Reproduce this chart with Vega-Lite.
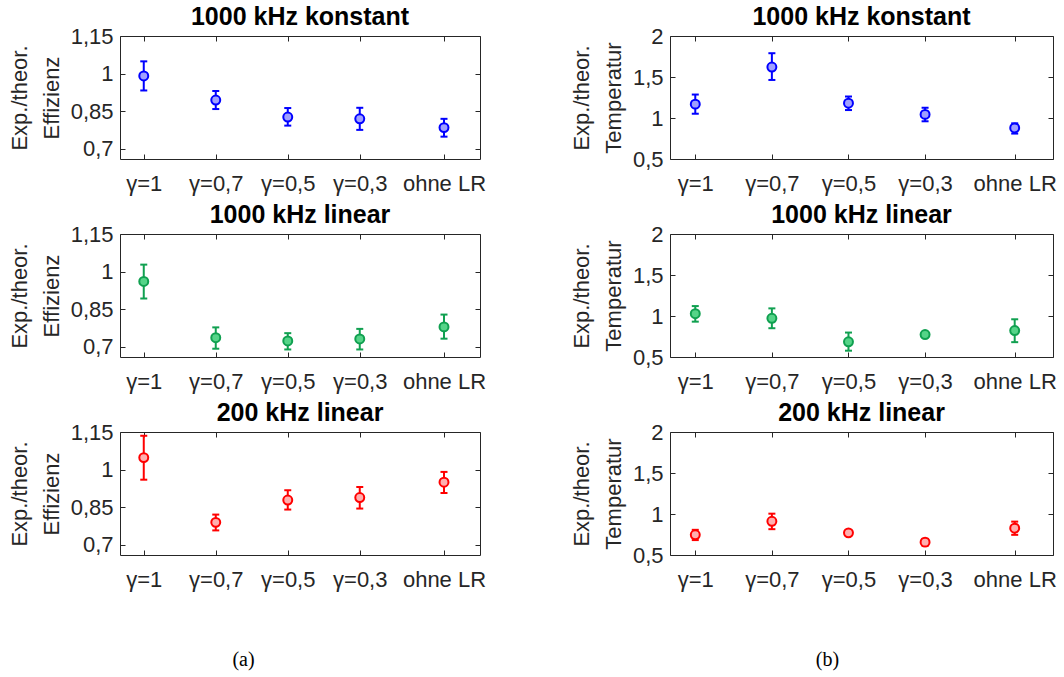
{
  "$schema": "https://vega.github.io/schema/vega-lite/v6.json",
  "background": "white",
  "padding": {"left": 7, "top": 4, "right": 0, "bottom": 4},
  "datasets": {
    "pts": [
      {"g": "E1", "pos": 1, "val": 0.991, "lo": 0.933, "hi": 1.049},
      {"g": "E1", "pos": 2, "val": 0.895, "lo": 0.859, "hi": 0.931},
      {"g": "E1", "pos": 3, "val": 0.827, "lo": 0.793, "hi": 0.863},
      {"g": "E1", "pos": 4, "val": 0.820, "lo": 0.776, "hi": 0.864},
      {"g": "E1", "pos": 5.17, "val": 0.785, "lo": 0.749, "hi": 0.820},
      {"g": "E2", "pos": 1, "val": 0.961, "lo": 0.893, "hi": 1.028},
      {"g": "E2", "pos": 2, "val": 0.737, "lo": 0.693, "hi": 0.778},
      {"g": "E2", "pos": 3, "val": 0.724, "lo": 0.690, "hi": 0.755},
      {"g": "E2", "pos": 4, "val": 0.732, "lo": 0.690, "hi": 0.772},
      {"g": "E2", "pos": 5.17, "val": 0.780, "lo": 0.733, "hi": 0.829},
      {"g": "E3", "pos": 1, "val": 1.048, "lo": 0.960, "hi": 1.135},
      {"g": "E3", "pos": 2, "val": 0.790, "lo": 0.758, "hi": 0.821},
      {"g": "E3", "pos": 3, "val": 0.879, "lo": 0.841, "hi": 0.918},
      {"g": "E3", "pos": 4, "val": 0.889, "lo": 0.845, "hi": 0.931},
      {"g": "E3", "pos": 5.17, "val": 0.950, "lo": 0.907, "hi": 0.991},
      {"g": "T1", "pos": 1, "val": 1.169, "lo": 1.052, "hi": 1.286},
      {"g": "T1", "pos": 2, "val": 1.621, "lo": 1.464, "hi": 1.790},
      {"g": "T1", "pos": 3, "val": 1.181, "lo": 1.097, "hi": 1.262},
      {"g": "T1", "pos": 4, "val": 1.044, "lo": 0.960, "hi": 1.125},
      {"g": "T1", "pos": 5.17, "val": 0.879, "lo": 0.810, "hi": 0.935},
      {"g": "T2", "pos": 1, "val": 1.028, "lo": 0.931, "hi": 1.121},
      {"g": "T2", "pos": 2, "val": 0.972, "lo": 0.851, "hi": 1.093},
      {"g": "T2", "pos": 3, "val": 0.685, "lo": 0.577, "hi": 0.798},
      {"g": "T2", "pos": 4, "val": 0.774, "lo": 0.742, "hi": 0.806},
      {"g": "T2", "pos": 5.17, "val": 0.823, "lo": 0.681, "hi": 0.960},
      {"g": "T3", "pos": 1, "val": 0.746, "lo": 0.682, "hi": 0.807},
      {"g": "T3", "pos": 2, "val": 0.911, "lo": 0.815, "hi": 1.004},
      {"g": "T3", "pos": 3, "val": 0.770, "lo": 0.738, "hi": 0.802},
      {"g": "T3", "pos": 4, "val": 0.657, "lo": 0.613, "hi": 0.697},
      {"g": "T3", "pos": 5.17, "val": 0.827, "lo": 0.746, "hi": 0.907}
    ]
  },
  "data": {"name": "pts"},
  "bounds": "flush",
  "columns": 2,
  "spacing": {"row": 75, "column": 190},
  "concat": [
    {
      "width": 360, "height": 123,
      "title": "1000 kHz konstant",
      "transform": [{"filter": "datum.g == 'E1'"}],
      "layer": [
        {"layer": [
          {"mark": {"type": "rule", "color": "#0000ff", "strokeWidth": 2}, "encoding": {"x": {"field": "pos", "type": "quantitative", "scale": {"domain": [0.67, 5.67], "nice": false, "zero": false}, "axis": {"values": [1, 2, 3, 4, 5.17], "labelExpr": "datum.value == 1 ? 'γ=1' : datum.value == 2 ? 'γ=0,7' : datum.value == 3 ? 'γ=0,5' : datum.value == 4 ? 'γ=0,3' : 'ohne LR'", "title": null, "labelPadding": 19}}, "y": {"field": "lo", "type": "quantitative", "scale": {"domain": [0.66, 1.15], "nice": false, "zero": false}, "axis": {"values": [0.7, 0.85, 1, 1.15], "format": ".2~f", "title": ["Exp./theor.", "Effizienz"]}}, "y2": {"field": "hi"}}},
          {"mark": {"type": "tick", "orient": "horizontal", "color": "#0000ff", "size": 7, "thickness": 2, "opacity": 1}, "encoding": {"x": {"field": "pos", "type": "quantitative"}, "y": {"field": "lo", "type": "quantitative"}}},
          {"mark": {"type": "tick", "orient": "horizontal", "color": "#0000ff", "size": 7, "thickness": 2, "opacity": 1}, "encoding": {"x": {"field": "pos", "type": "quantitative"}, "y": {"field": "hi", "type": "quantitative"}}},
          {"mark": {"type": "point", "shape": "circle", "filled": true, "fill": "#a0a0ff", "stroke": "#0000ff", "strokeWidth": 2, "size": 80, "opacity": 1}, "encoding": {"x": {"field": "pos", "type": "quantitative"}, "y": {"field": "val", "type": "quantitative"}}}
        ]},
        {"mark": {"type": "point", "opacity": 0}, "encoding": {"x": {"field": "pos", "type": "quantitative", "scale": {"domain": [0.67, 5.67], "nice": false, "zero": false}, "axis": {"orient": "top", "labels": false, "title": null, "values": [1, 2, 3, 4, 5.17]}}, "y": {"field": "val", "type": "quantitative", "scale": {"domain": [0.66, 1.15], "nice": false, "zero": false}, "axis": {"orient": "right", "labels": false, "title": null, "values": [0.7, 0.85, 1, 1.15]}}}}
      ],
      "resolve": {"axis": {"x": "independent", "y": "independent"}}
    },
    {
      "width": 383, "height": 123,
      "title": "1000 kHz konstant",
      "transform": [{"filter": "datum.g == 'T1'"}],
      "layer": [
        {"layer": [
          {"mark": {"type": "rule", "color": "#0000ff", "strokeWidth": 2}, "encoding": {"x": {"field": "pos", "type": "quantitative", "scale": {"domain": [0.67, 5.67], "nice": false, "zero": false}, "axis": {"values": [1, 2, 3, 4, 5.17], "labelExpr": "datum.value == 1 ? 'γ=1' : datum.value == 2 ? 'γ=0,7' : datum.value == 3 ? 'γ=0,5' : datum.value == 4 ? 'γ=0,3' : 'ohne LR'", "title": null, "labelPadding": 19}}, "y": {"field": "lo", "type": "quantitative", "scale": {"domain": [0.5, 2], "nice": false, "zero": false}, "axis": {"values": [0.5, 1, 1.5, 2], "format": ".1~f", "title": ["Exp./theor.", "Temperatur"]}}, "y2": {"field": "hi"}}},
          {"mark": {"type": "tick", "orient": "horizontal", "color": "#0000ff", "size": 7, "thickness": 2, "opacity": 1}, "encoding": {"x": {"field": "pos", "type": "quantitative"}, "y": {"field": "lo", "type": "quantitative"}}},
          {"mark": {"type": "tick", "orient": "horizontal", "color": "#0000ff", "size": 7, "thickness": 2, "opacity": 1}, "encoding": {"x": {"field": "pos", "type": "quantitative"}, "y": {"field": "hi", "type": "quantitative"}}},
          {"mark": {"type": "point", "shape": "circle", "filled": true, "fill": "#a0a0ff", "stroke": "#0000ff", "strokeWidth": 2, "size": 80, "opacity": 1}, "encoding": {"x": {"field": "pos", "type": "quantitative"}, "y": {"field": "val", "type": "quantitative"}}}
        ]},
        {"mark": {"type": "point", "opacity": 0}, "encoding": {"x": {"field": "pos", "type": "quantitative", "scale": {"domain": [0.67, 5.67], "nice": false, "zero": false}, "axis": {"orient": "top", "labels": false, "title": null, "values": [1, 2, 3, 4, 5.17]}}, "y": {"field": "val", "type": "quantitative", "scale": {"domain": [0.5, 2], "nice": false, "zero": false}, "axis": {"orient": "right", "labels": false, "title": null, "values": [0.5, 1, 1.5, 2]}}}}
      ],
      "resolve": {"axis": {"x": "independent", "y": "independent"}}
    },
    {
      "width": 360, "height": 123,
      "title": "1000 kHz linear",
      "transform": [{"filter": "datum.g == 'E2'"}],
      "layer": [
        {"layer": [
          {"mark": {"type": "rule", "color": "#10a050", "strokeWidth": 2}, "encoding": {"x": {"field": "pos", "type": "quantitative", "scale": {"domain": [0.67, 5.67], "nice": false, "zero": false}, "axis": {"values": [1, 2, 3, 4, 5.17], "labelExpr": "datum.value == 1 ? 'γ=1' : datum.value == 2 ? 'γ=0,7' : datum.value == 3 ? 'γ=0,5' : datum.value == 4 ? 'γ=0,3' : 'ohne LR'", "title": null, "labelPadding": 19}}, "y": {"field": "lo", "type": "quantitative", "scale": {"domain": [0.66, 1.15], "nice": false, "zero": false}, "axis": {"values": [0.7, 0.85, 1, 1.15], "format": ".2~f", "title": ["Exp./theor.", "Effizienz"]}}, "y2": {"field": "hi"}}},
          {"mark": {"type": "tick", "orient": "horizontal", "color": "#10a050", "size": 7, "thickness": 2, "opacity": 1}, "encoding": {"x": {"field": "pos", "type": "quantitative"}, "y": {"field": "lo", "type": "quantitative"}}},
          {"mark": {"type": "tick", "orient": "horizontal", "color": "#10a050", "size": 7, "thickness": 2, "opacity": 1}, "encoding": {"x": {"field": "pos", "type": "quantitative"}, "y": {"field": "hi", "type": "quantitative"}}},
          {"mark": {"type": "point", "shape": "circle", "filled": true, "fill": "#55d488", "stroke": "#10a050", "strokeWidth": 2, "size": 80, "opacity": 1}, "encoding": {"x": {"field": "pos", "type": "quantitative"}, "y": {"field": "val", "type": "quantitative"}}}
        ]},
        {"mark": {"type": "point", "opacity": 0}, "encoding": {"x": {"field": "pos", "type": "quantitative", "scale": {"domain": [0.67, 5.67], "nice": false, "zero": false}, "axis": {"orient": "top", "labels": false, "title": null, "values": [1, 2, 3, 4, 5.17]}}, "y": {"field": "val", "type": "quantitative", "scale": {"domain": [0.66, 1.15], "nice": false, "zero": false}, "axis": {"orient": "right", "labels": false, "title": null, "values": [0.7, 0.85, 1, 1.15]}}}}
      ],
      "resolve": {"axis": {"x": "independent", "y": "independent"}}
    },
    {
      "width": 383, "height": 123,
      "title": "1000 kHz linear",
      "transform": [{"filter": "datum.g == 'T2'"}],
      "layer": [
        {"layer": [
          {"mark": {"type": "rule", "color": "#10a050", "strokeWidth": 2}, "encoding": {"x": {"field": "pos", "type": "quantitative", "scale": {"domain": [0.67, 5.67], "nice": false, "zero": false}, "axis": {"values": [1, 2, 3, 4, 5.17], "labelExpr": "datum.value == 1 ? 'γ=1' : datum.value == 2 ? 'γ=0,7' : datum.value == 3 ? 'γ=0,5' : datum.value == 4 ? 'γ=0,3' : 'ohne LR'", "title": null, "labelPadding": 19}}, "y": {"field": "lo", "type": "quantitative", "scale": {"domain": [0.5, 2], "nice": false, "zero": false}, "axis": {"values": [0.5, 1, 1.5, 2], "format": ".1~f", "title": ["Exp./theor.", "Temperatur"]}}, "y2": {"field": "hi"}}},
          {"mark": {"type": "tick", "orient": "horizontal", "color": "#10a050", "size": 7, "thickness": 2, "opacity": 1}, "encoding": {"x": {"field": "pos", "type": "quantitative"}, "y": {"field": "lo", "type": "quantitative"}}},
          {"mark": {"type": "tick", "orient": "horizontal", "color": "#10a050", "size": 7, "thickness": 2, "opacity": 1}, "encoding": {"x": {"field": "pos", "type": "quantitative"}, "y": {"field": "hi", "type": "quantitative"}}},
          {"mark": {"type": "point", "shape": "circle", "filled": true, "fill": "#55d488", "stroke": "#10a050", "strokeWidth": 2, "size": 80, "opacity": 1}, "encoding": {"x": {"field": "pos", "type": "quantitative"}, "y": {"field": "val", "type": "quantitative"}}}
        ]},
        {"mark": {"type": "point", "opacity": 0}, "encoding": {"x": {"field": "pos", "type": "quantitative", "scale": {"domain": [0.67, 5.67], "nice": false, "zero": false}, "axis": {"orient": "top", "labels": false, "title": null, "values": [1, 2, 3, 4, 5.17]}}, "y": {"field": "val", "type": "quantitative", "scale": {"domain": [0.5, 2], "nice": false, "zero": false}, "axis": {"orient": "right", "labels": false, "title": null, "values": [0.5, 1, 1.5, 2]}}}}
      ],
      "resolve": {"axis": {"x": "independent", "y": "independent"}}
    },
    {
      "width": 360, "height": 123,
      "title": "200 kHz linear",
      "transform": [{"filter": "datum.g == 'E3'"}],
      "layer": [
        {"layer": [
          {"mark": {"type": "rule", "color": "#ff0000", "strokeWidth": 2}, "encoding": {"x": {"field": "pos", "type": "quantitative", "scale": {"domain": [0.67, 5.67], "nice": false, "zero": false}, "axis": {"values": [1, 2, 3, 4, 5.17], "labelExpr": "datum.value == 1 ? 'γ=1' : datum.value == 2 ? 'γ=0,7' : datum.value == 3 ? 'γ=0,5' : datum.value == 4 ? 'γ=0,3' : 'ohne LR'", "labelPadding": 19, "title": "(a)", "titleFont": "Liberation Serif", "titleFontSize": 20, "titleFontWeight": "normal", "titleColor": "#000000", "titleX": 123, "titleY": 104, "titleAlign": "center", "titleBaseline": "middle"}}, "y": {"field": "lo", "type": "quantitative", "scale": {"domain": [0.66, 1.15], "nice": false, "zero": false}, "axis": {"values": [0.7, 0.85, 1, 1.15], "format": ".2~f", "title": ["Exp./theor.", "Effizienz"]}}, "y2": {"field": "hi"}}},
          {"mark": {"type": "tick", "orient": "horizontal", "color": "#ff0000", "size": 7, "thickness": 2, "opacity": 1}, "encoding": {"x": {"field": "pos", "type": "quantitative"}, "y": {"field": "lo", "type": "quantitative"}}},
          {"mark": {"type": "tick", "orient": "horizontal", "color": "#ff0000", "size": 7, "thickness": 2, "opacity": 1}, "encoding": {"x": {"field": "pos", "type": "quantitative"}, "y": {"field": "hi", "type": "quantitative"}}},
          {"mark": {"type": "point", "shape": "circle", "filled": true, "fill": "#ffafaf", "stroke": "#ff0000", "strokeWidth": 2, "size": 80, "opacity": 1}, "encoding": {"x": {"field": "pos", "type": "quantitative"}, "y": {"field": "val", "type": "quantitative"}}}
        ]},
        {"mark": {"type": "point", "opacity": 0}, "encoding": {"x": {"field": "pos", "type": "quantitative", "scale": {"domain": [0.67, 5.67], "nice": false, "zero": false}, "axis": {"orient": "top", "labels": false, "title": null, "values": [1, 2, 3, 4, 5.17]}}, "y": {"field": "val", "type": "quantitative", "scale": {"domain": [0.66, 1.15], "nice": false, "zero": false}, "axis": {"orient": "right", "labels": false, "title": null, "values": [0.7, 0.85, 1, 1.15]}}}}
      ],
      "resolve": {"axis": {"x": "independent", "y": "independent"}}
    },
    {
      "width": 383, "height": 123,
      "title": "200 kHz linear",
      "transform": [{"filter": "datum.g == 'T3'"}],
      "layer": [
        {"layer": [
          {"mark": {"type": "rule", "color": "#ff0000", "strokeWidth": 2}, "encoding": {"x": {"field": "pos", "type": "quantitative", "scale": {"domain": [0.67, 5.67], "nice": false, "zero": false}, "axis": {"values": [1, 2, 3, 4, 5.17], "labelExpr": "datum.value == 1 ? 'γ=1' : datum.value == 2 ? 'γ=0,7' : datum.value == 3 ? 'γ=0,5' : datum.value == 4 ? 'γ=0,3' : 'ohne LR'", "labelPadding": 19, "title": "(b)", "titleFont": "Liberation Serif", "titleFontSize": 20, "titleFontWeight": "normal", "titleColor": "#000000", "titleX": 157, "titleY": 104, "titleAlign": "center", "titleBaseline": "middle"}}, "y": {"field": "lo", "type": "quantitative", "scale": {"domain": [0.5, 2], "nice": false, "zero": false}, "axis": {"values": [0.5, 1, 1.5, 2], "format": ".1~f", "title": ["Exp./theor.", "Temperatur"]}}, "y2": {"field": "hi"}}},
          {"mark": {"type": "tick", "orient": "horizontal", "color": "#ff0000", "size": 7, "thickness": 2, "opacity": 1}, "encoding": {"x": {"field": "pos", "type": "quantitative"}, "y": {"field": "lo", "type": "quantitative"}}},
          {"mark": {"type": "tick", "orient": "horizontal", "color": "#ff0000", "size": 7, "thickness": 2, "opacity": 1}, "encoding": {"x": {"field": "pos", "type": "quantitative"}, "y": {"field": "hi", "type": "quantitative"}}},
          {"mark": {"type": "point", "shape": "circle", "filled": true, "fill": "#ffafaf", "stroke": "#ff0000", "strokeWidth": 2, "size": 80, "opacity": 1}, "encoding": {"x": {"field": "pos", "type": "quantitative"}, "y": {"field": "val", "type": "quantitative"}}}
        ]},
        {"mark": {"type": "point", "opacity": 0}, "encoding": {"x": {"field": "pos", "type": "quantitative", "scale": {"domain": [0.67, 5.67], "nice": false, "zero": false}, "axis": {"orient": "top", "labels": false, "title": null, "values": [1, 2, 3, 4, 5.17]}}, "y": {"field": "val", "type": "quantitative", "scale": {"domain": [0.5, 2], "nice": false, "zero": false}, "axis": {"orient": "right", "labels": false, "title": null, "values": [0.5, 1, 1.5, 2]}}}}
      ],
      "resolve": {"axis": {"x": "independent", "y": "independent"}}
    }
  ],
  "config": {
    "locale": {"number": {"decimal": ",", "thousands": ".", "grouping": [3], "currency": ["", " €"]}},
    "view": {"stroke": "#262626", "strokeWidth": 1},
    "font": "Liberation Sans",
    "title": {"font": "Liberation Sans", "fontSize": 25, "fontWeight": "bold", "color": "#000000", "offset": 4, "dy": 9, "anchor": "middle"},
    "axis": {"domain": false, "grid": false, "ticks": true, "tickSize": -5, "tickColor": "#262626", "tickWidth": 1, "labelFont": "Liberation Sans", "labelFontSize": 22, "labelColor": "#262626", "labelFlush": false, "labelOverlap": false, "labelPadding": 12, "titleFont": "Liberation Sans", "titleFontSize": 22, "titleFontWeight": "normal", "titleColor": "#262626", "titleLineHeight": 32, "titlePadding": 7}
  }
}
